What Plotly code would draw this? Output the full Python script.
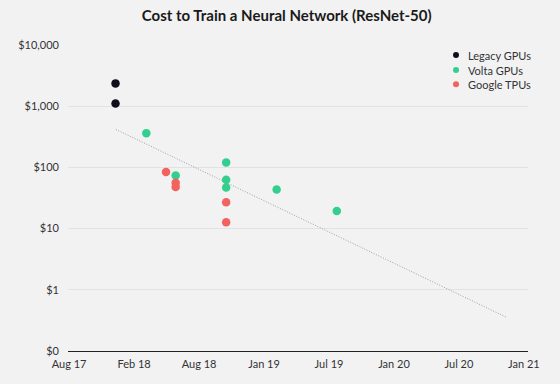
import plotly.graph_objects as go

# ---- data ----
legacy_dates = ["2017-12-23", "2017-12-23"]
legacy_cost = [2360, 1110]

volta_dates = ["2018-03-16", "2018-06-03", "2018-10-17", "2018-10-17", "2018-10-17", "2019-03-02", "2019-08-11"]
volta_cost = [363, 74, 120, 63, 47, 43.5, 19.4]

tpu_dates = ["2018-05-08", "2018-06-03", "2018-06-03", "2018-10-17", "2018-10-17"]
tpu_cost = [84, 56, 48, 27, 12.7]

trend_dates = ["2017-12-24", "2020-11-11"]
trend_cost = [417, 0.353]

series_names = ["Legacy GPUs", "Volta GPUs", "Google TPUs"]
series_colors = ["#0f0f1c", "#34cf8e", "#f2625e"]

x_tick_dates = ["2017-08-20", "2018-02-11", "2018-08-05", "2019-01-27", "2019-07-21",
                "2020-01-12", "2020-07-05", "2020-12-27"]
x_tick_text = ["Aug 17", "Feb 18", "Aug 18", "Jan 19", "Jul 19", "Jan 20", "Jul 20", "Jan 21"]
x_range = ["2017-08-17", "2021-01-07"]

y_tick_vals = [0.1, 1, 10, 100, 1000, 10000]
y_tick_text = ["$0", "$1", "$10", "$100", "$1,000", "$10,000"]

BG = "#f2f2f3"
FONT = "Lato"

fig = go.Figure()
fig.add_trace(go.Scatter(x=trend_dates, y=trend_cost, mode="lines",
                         line=dict(color="#a0a0a0", width=1, dash="1px,1.6px"),
                         showlegend=False, hoverinfo="skip"))
for xs, ys, name, col in zip([legacy_dates, volta_dates, tpu_dates],
                             [legacy_cost, volta_cost, tpu_cost],
                             series_names, series_colors):
    fig.add_trace(go.Scatter(x=xs, y=ys, mode="markers", name=name, showlegend=False,
                             marker=dict(color=col, size=8.5)))

# compact legend (top right)
leg_sym_x, leg_txt_x = 0.8435, 0.865
leg_rows = [0.967, 0.918, 0.872]
for name, col, yy in zip(series_names, series_colors, leg_rows):
    fig.add_shape(type="circle", xref="paper", yref="paper",
                  xsizemode="pixel", ysizemode="pixel",
                  xanchor=leg_sym_x, yanchor=yy, x0=-3, x1=3, y0=-3, y1=3,
                  fillcolor=col, line=dict(width=0))
    fig.add_annotation(text=name, xref="paper", yref="paper", x=leg_txt_x, y=yy,
                       xanchor="left", yanchor="middle", showarrow=False,
                       font=dict(family=FONT, size=11, color="#333333"))

fig.update_layout(
    width=560, height=384,
    paper_bgcolor=BG, plot_bgcolor=BG,
    margin=dict(l=68, r=32, t=45, b=33),
    font=dict(family=FONT, size=11, color="#333333"),
    title=dict(text="<b>Cost to Train a Neural Network (ResNet-50)</b>",
               x=0.512, xanchor="center", y=0.96, yanchor="middle", yref="container",
               font=dict(family=FONT, size=15, color="#1a1a1a")),
    showlegend=False,
)
fig.update_xaxes(type="date", range=x_range, tickvals=x_tick_dates, ticktext=x_tick_text,
                 showgrid=False, zeroline=False, showline=True, linecolor="#222222", linewidth=1.2,
                 ticks="", ticklabelstandoff=3, tickfont=dict(size=11, color="#333333"))
fig.update_yaxes(type="log", range=[-1, 4], tickvals=y_tick_vals, ticktext=y_tick_text,
                 showgrid=True, gridcolor="#e2e2e2", gridwidth=1, zeroline=False, showline=False,
                 ticks="", ticklabelstandoff=8, tickfont=dict(size=11, color="#333333"))

fig.write_html("out.html")
